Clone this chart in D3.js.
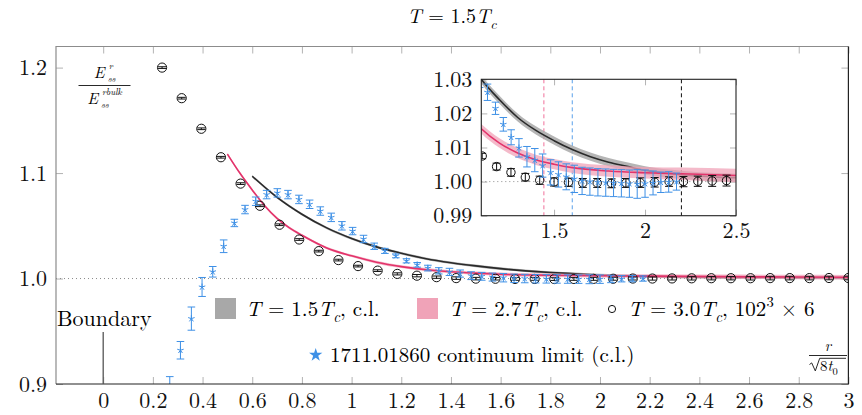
<!DOCTYPE html>
<html>
<head>
<meta charset="utf-8">
<script src="https://cdn.jsdelivr.net/npm/d3@7"></script>
<style>
  body { margin: 0; background: #fff; }
  svg { display: block; font-family: "Latin Modern Roman", "CMU Serif", "Liberation Serif", serif; }
</style>
</head>
<body>
<svg id="chart" width="862" height="415"></svg>
<script>
// ---- data ----
// T = 3.0 Tc, 102^3 x 6 lattice (open circles)
const circleX = [0.237, 0.316, 0.395, 0.474, 0.553, 0.631, 0.710, 0.789, 0.868, 0.947, 1.026, 1.105,
  1.184, 1.263, 1.342, 1.421, 1.500, 1.579, 1.658, 1.737, 1.816, 1.895, 1.974, 2.053, 2.132, 2.211,
  2.290, 2.369, 2.448, 2.527, 2.606, 2.685, 2.764, 2.843, 2.922, 3.000];
const circleY = [1.200, 1.171, 1.142, 1.115, 1.090, 1.069, 1.051, 1.037, 1.026, 1.0175, 1.0118, 1.0075,
  1.0044, 1.0027, 1.0013, 1.0004, 0.9999, 0.9998, 0.9996, 0.9996, 0.9995, 0.9996, 0.9997, 0.9998, 1.0000, 1.0000,
  1.0001, 1.0002, 1.0003, 1.0003, 1.0003, 1.0004, 1.0004, 1.0004, 1.0005, 1.0005];
const circleErr = [0.0008, 0.0008, 0.0008, 0.0008, 0.0008, 0.0008, 0.0008, 0.0008, 0.0008, 0.0008, 0.0008, 0.0008,
  0.0010, 0.0011, 0.0011, 0.0012, 0.0012, 0.0012, 0.0013, 0.0013, 0.0013, 0.0013, 0.0014, 0.0014, 0.0014, 0.0015,
  0.0015, 0.0016, 0.0016, 0.0016, 0.0017, 0.0017, 0.0017, 0.0017, 0.0017, 0.0017];

// 1711.01860 continuum limit (stars)
const starX = [0.268, 0.311, 0.355, 0.398, 0.441, 0.485, 0.528, 0.571, 0.614, 0.658, 0.701, 0.744, 0.788,
  0.831, 0.874, 0.918, 0.961, 1.004, 1.048, 1.091, 1.134, 1.178, 1.221, 1.264, 1.307, 1.351, 1.394, 1.437,
  1.481, 1.524, 1.567, 1.611, 1.654, 1.697, 1.741, 1.784, 1.827, 1.870, 1.914, 1.957, 2.000, 2.044, 2.087,
  2.130, 2.173];
const starY = [0.893, 0.932, 0.962, 0.992, 1.0064, 1.0306, 1.0527, 1.0654, 1.0733, 1.0796, 1.0812, 1.0796, 1.0750,
  1.0704, 1.0640, 1.0580, 1.0500, 1.0450, 1.0375, 1.0306, 1.0262, 1.0215, 1.0168, 1.0130, 1.0099, 1.0073, 1.0063, 1.0047,
  1.0027, 1.0021, 1.0014, 1.0008, 1.0002, 1.0000, 0.9998, 0.9997, 0.9996, 0.9995, 0.9994, 0.9993, 0.9994, 0.9996, 0.9998,
  0.9999, 1.0000];
const starErr = [0.014, 0.0083, 0.011, 0.009, 0.005, 0.006, 0.0035, 0.004, 0.004, 0.004, 0.004, 0.004, 0.004,
  0.004, 0.004, 0.004, 0.004, 0.0035, 0.0035, 0.003, 0.0024, 0.0018, 0.002, 0.0022, 0.0027, 0.003, 0.0034, 0.0034,
  0.0037, 0.0037, 0.0038, 0.004, 0.004, 0.004, 0.004, 0.004, 0.004, 0.004, 0.004, 0.0042, 0.004, 0.0035, 0.003,
  0.003, 0.0025];

// T = 1.5 Tc continuum limit (black line + gray band)
const blackX = [0.60, 0.70, 0.80, 0.90, 1.00, 1.10, 1.20, 1.30, 1.40, 1.50, 1.60, 1.70, 1.80, 1.90, 2.00,
  2.20, 2.40, 2.60, 2.80, 3.00];
const blackY = [1.097, 1.077, 1.061, 1.048, 1.038, 1.030, 1.024, 1.0188, 1.0150, 1.0120, 1.0094, 1.0073, 1.0057,
  1.0045, 1.0033, 1.0020, 1.0013, 1.0010, 1.0007, 1.0005];
const blackErr = [0.0012, 0.0012, 0.0012, 0.0012, 0.0012, 0.0012, 0.0012, 0.0012, 0.0012, 0.0012, 0.0012, 0.0012,
  0.0012, 0.0012, 0.0012, 0.0012, 0.0012, 0.0012, 0.0012, 0.0012];

// T = 2.7 Tc continuum limit (pink line + pink band)
const pinkX = [0.50, 0.55, 0.60, 0.65, 0.70, 0.75, 0.80, 0.90, 1.00, 1.10, 1.20, 1.30, 1.40, 1.50, 1.60,
  1.80, 2.00, 2.20, 2.50, 2.80, 3.00];
const pinkY = [1.118, 1.100, 1.084, 1.069, 1.057, 1.048, 1.041, 1.029, 1.0215, 1.0155, 1.0113, 1.0084, 1.0064,
  1.0051, 1.0041, 1.0031, 1.0026, 1.0023, 1.0018, 1.0014, 1.0012];
const pinkErr = [0.0012, 0.0012, 0.0012, 0.0012, 0.0012, 0.0012, 0.0012, 0.0012, 0.0012, 0.0014, 0.0014, 0.0015,
  0.0015, 0.0015, 0.0016, 0.0017, 0.0017, 0.0018, 0.0020, 0.0021, 0.0022];

// axes ticks
const xTicks = [0, 0.2, 0.4, 0.6, 0.8, 1, 1.2, 1.4, 1.6, 1.8, 2, 2.2, 2.4, 2.6, 2.8, 3];
const yTicks = [0.9, 1.0, 1.1, 1.2];
const insetXTicks = [1.5, 2, 2.5];
const insetYTicks = [0.99, 1.00, 1.01, 1.02, 1.03];
const insetMarkers = [1.444, 1.6, 2.2];   // dashed vertical lines in the inset
const boundaryX = 0;

const COL_BLUE = "#3e90e6", COL_PINK = "#e3336b", COL_PINKBAND = "#f0a3b8",
      COL_BLACK = "#2a2a2a", COL_GRAYBAND = "#a8a8a8";
const FONT = 22;

const svg = d3.select("#chart");

// ---- helpers ----
function rich(textSel, parts, size) {
  let off = 0;
  parts.forEach(p => {
    const ts = textSel.append("tspan").text(p.t);
    let target = 0;
    if (p.sub) target = size * 0.28;
    if (p.sup) target = -size * 0.42;
    if (target !== off) ts.attr("dy", target - off);
    off = target;
    if (p.i) ts.style("font-style", "italic");
    if (p.sub || p.sup) ts.style("font-size", (size * 0.7) + "px");
  });
  return textSel;
}

function starPath(r) {
  let d = "";
  for (let k = 0; k < 5; k++) {
    const a = -Math.PI / 2 + k * 2 * Math.PI / 5;
    d += "M0,0L" + (r * Math.cos(a)).toFixed(2) + "," + (r * Math.sin(a)).toFixed(2);
  }
  return d;
}

function drawPlot(g, x, y, opt) {
  const area = d => d3.area().curve(d3.curveMonotoneX)
    .x(i => x(d.xs[i])).y0(i => y(d.ys[i] - d.es[i])).y1(i => y(d.ys[i] + d.es[i]));
  const line = d => d3.line().curve(d3.curveMonotoneX).x(i => x(d.xs[i])).y(i => y(d.ys[i]));
  const black = { xs: blackX, ys: blackY, es: blackErr };
  const pink = { xs: pinkX, ys: pinkY, es: pinkErr };
  const idxB = d3.range(blackX.length), idxP = d3.range(pinkX.length);

  const clip = g.append("g").attr("clip-path", "url(#" + opt.clip + ")");
  clip.append("path").attr("d", area(black)(idxB)).attr("fill", COL_GRAYBAND).attr("opacity", 0.85);
  clip.append("path").attr("d", line(black)(idxB)).attr("fill", "none").attr("stroke", COL_BLACK).attr("stroke-width", 1.6);
  clip.append("path").attr("d", area(pink)(idxP)).attr("fill", COL_PINKBAND).attr("opacity", 0.75);
  clip.append("path").attr("d", line(pink)(idxP)).attr("fill", "none").attr("stroke", COL_PINK).attr("stroke-width", 1.6);

  // circles with error bars
  const cg = clip.append("g").attr("stroke", "#111").attr("fill", "none").attr("stroke-width", 1);
  d3.range(circleX.length).forEach(i => {
    const cx = x(circleX[i]);
    const t = y(circleY[i] + circleErr[i]), b = y(circleY[i] - circleErr[i]);
    cg.append("path").attr("d", `M${cx},${t}V${b}M${cx - 4},${t}H${cx + 4}M${cx - 4},${b}H${cx + 4}`);
    cg.append("circle").attr("cx", cx).attr("cy", y(circleY[i])).attr("r", opt.r);
  });

  // stars with error bars
  const sg = clip.append("g").attr("stroke", COL_BLUE).attr("fill", "none").attr("stroke-width", 1);
  d3.range(starX.length).forEach(i => {
    const sx = x(starX[i]);
    const t = y(starY[i] + starErr[i]), b = y(starY[i] - starErr[i]);
    sg.append("path").attr("d", `M${sx},${t}V${b}M${sx - 3.8},${t}H${sx + 3.8}M${sx - 3.8},${b}H${sx + 3.8}`);
    sg.append("path").attr("transform", `translate(${sx},${y(starY[i])})`).attr("d", starPath(3.4));
  });
}

function styleAxis(g) {
  g.attr("font-family", null).attr("font-size", FONT);
  g.select(".domain").remove();
  g.selectAll(".tick line").attr("stroke", "#b3b3b3");
  g.selectAll(".tick text").attr("fill", "#111");
}

// ---- main axes ----
const M = { left: 56, right: 848.4, top: 46.5, bottom: 384 };
const x = d3.scaleLinear().domain([-0.19, 3]).range([M.left, M.right]);
const y = d3.scaleLinear().domain([0.9, 1.22]).range([M.bottom, M.top]);

const defs = svg.append("defs");
defs.append("clipPath").attr("id", "clipMain").append("rect")
  .attr("x", M.left).attr("y", M.top).attr("width", M.right - M.left).attr("height", M.bottom - M.top);

// title
rich(svg.append("text").attr("x", 452).attr("y", 23).attr("text-anchor", "middle").attr("font-size", 20),
  [{ t: "T", i: true }, { t: " = 1.5" }, { t: "T", i: true }, { t: "c", i: true, sub: true }], 20);

// ticks
svg.append("g").attr("transform", `translate(0,${M.bottom})`)
  .call(d3.axisBottom(x).tickValues(xTicks).tickFormat(d => String(+d.toFixed(1))).tickSize(-7).tickPadding(8))
  .call(styleAxis);
svg.append("g").attr("transform", `translate(0,${M.top})`)
  .call(d3.axisTop(x).tickValues(xTicks).tickFormat("").tickSize(-7)).call(styleAxis);
svg.append("g").attr("transform", `translate(${M.left},0)`)
  .call(d3.axisLeft(y).tickValues(yTicks).tickFormat(d3.format(".1f")).tickSize(-7).tickPadding(9))
  .call(styleAxis);
svg.append("g").attr("transform", `translate(${M.right},0)`)
  .call(d3.axisRight(y).tickValues(yTicks).tickFormat("").tickSize(-7)).call(styleAxis);

// reference line at 1
svg.append("line").attr("x1", M.left).attr("x2", M.right).attr("y1", y(1)).attr("y2", y(1))
  .attr("stroke", "#8a8a8a").attr("stroke-width", 1).attr("stroke-dasharray", "1,3");

drawPlot(svg.append("g"), x, y, { clip: "clipMain", r: 4.6 });

// frame
svg.append("path").attr("d", `M${M.left},${M.bottom}V${M.top}H${M.right}`)
  .attr("fill", "none").attr("stroke", "#8c8c8c").attr("stroke-width", 1.2);
svg.append("path").attr("d", `M${M.left},${M.bottom}H${M.right}V${M.top}`)
  .attr("fill", "none").attr("stroke", "#222").attr("stroke-width", 1.2);

// boundary marker
svg.append("line").attr("x1", x(boundaryX)).attr("x2", x(boundaryX)).attr("y1", 332).attr("y2", M.bottom)
  .attr("stroke", "#555").attr("stroke-width", 1.3);
svg.append("text").attr("x", 57).attr("y", 326).attr("font-size", FONT).text("Boundary");

// y label (fraction): E, then superscript and subscript placed as separate small texts
function stackedE(cx, base, sup, size) {
  const s = 9.3, gap = 3;
  const e = svg.append("text").attr("y", base).attr("font-size", size).style("font-style", "italic").text("E");
  const s1 = svg.append("text").attr("y", base - 8.4).attr("font-size", s).style("font-style", "italic").text(sup);
  const s2 = svg.append("text").attr("y", base + 4.6).attr("font-size", s).style("font-style", "italic").text("ss");
  const we = e.node().getComputedTextLength();
  const w1 = s1.node().getComputedTextLength(), w2 = s2.node().getComputedTextLength();
  const x0 = cx - (we + gap + Math.max(w1 + 1, w2)) / 2;
  e.attr("x", x0); s1.attr("x", x0 + we + gap + 1); s2.attr("x", x0 + we + gap);
}
stackedE(104.5, 77.5, "r", 16);
svg.append("line").attr("x1", 78.5).attr("x2", 130.5).attr("y1", 85.5).attr("y2", 85.5).attr("stroke", "#111").attr("stroke-width", 0.9);
stackedE(104.5, 103.5, "rbulk", 16);

// x label r / sqrt(8 t0)
svg.append("text").attr("x", 828).attr("y", 351).attr("text-anchor", "middle").attr("font-size", 15)
  .style("font-style", "italic").text("r");
svg.append("line").attr("x1", 809).attr("x2", 847).attr("y1", 355.5).attr("y2", 355.5).attr("stroke", "#111").attr("stroke-width", 0.9);
svg.append("path").attr("d", "M809.5,364.5l2.2,-1.6l3.6,8l4.4,-12.6H846").attr("fill", "none").attr("stroke", "#111").attr("stroke-width", 0.9);
rich(svg.append("text").attr("x", 820).attr("y", 371).attr("font-size", 15),
  [{ t: "8" }, { t: "t", i: true }, { t: "0", sub: true }], 15);

// ---- legend ----
const legend = svg.append("g").attr("font-size", 21);
legend.append("rect").attr("x", 215).attr("y", 298).attr("width", 21).attr("height", 21).attr("fill", COL_GRAYBAND);
rich(legend.append("text").attr("x", 246).attr("y", 316),
  [{ t: "T", i: true }, { t: " = 1.5" }, { t: "T", i: true }, { t: "c", i: true, sub: true }, { t: ", c.l." }], 21);
legend.append("rect").attr("x", 417).attr("y", 298).attr("width", 21).attr("height", 21).attr("fill", COL_PINKBAND);
rich(legend.append("text").attr("x", 449).attr("y", 316),
  [{ t: "T", i: true }, { t: " = 2.7" }, { t: "T", i: true }, { t: "c", i: true, sub: true }, { t: ", c.l." }], 21);
legend.append("circle").attr("cx", 612).attr("cy", 309).attr("r", 3.6).attr("fill", "none").attr("stroke", "#111");
rich(legend.append("text").attr("x", 628).attr("y", 316),
  [{ t: "T", i: true }, { t: " = 3.0" }, { t: "T", i: true }, { t: "c", i: true, sub: true }, { t: ", 102" },
   { t: "3", sup: true }, { t: " × 6" }], 21);
legend.append("path").attr("transform", "translate(315.7,355)")
  .attr("d", d3.symbol(d3.symbolStar, 55)()).attr("fill", COL_BLUE);
legend.append("text").attr("x", 330).attr("y", 362).text("1711.01860 continuum limit (c.l.)");

// ---- inset ----
const I = { left: 481.3, right: 736, top: 79.3, bottom: 215.7 };
const xi = d3.scaleLinear().domain([1.1, 2.5]).range([I.left, I.right]);
const yi = d3.scaleLinear().domain([0.99, 1.03]).range([I.bottom, I.top]);
defs.append("clipPath").attr("id", "clipInset").append("rect")
  .attr("x", I.left).attr("y", I.top).attr("width", I.right - I.left).attr("height", I.bottom - I.top);

const ins = svg.append("g");
ins.append("rect").attr("x", I.left).attr("y", I.top).attr("width", I.right - I.left).attr("height", I.bottom - I.top).attr("fill", "#fff");
ins.append("g").attr("transform", `translate(0,${I.bottom})`)
  .call(d3.axisBottom(xi).tickValues(insetXTicks).tickFormat(d3.format("~g")).tickSize(-6).tickPadding(7)).call(styleAxis);
ins.append("g").attr("transform", `translate(0,${I.top})`)
  .call(d3.axisTop(xi).tickValues(insetXTicks).tickFormat("").tickSize(-6)).call(styleAxis);
ins.append("g").attr("transform", `translate(${I.left},0)`)
  .call(d3.axisLeft(yi).tickValues(insetYTicks).tickFormat(d3.format(".2f")).tickSize(-6).tickPadding(9)).call(styleAxis);
ins.append("g").attr("transform", `translate(${I.right},0)`)
  .call(d3.axisRight(yi).tickValues(insetYTicks).tickFormat("").tickSize(-6)).call(styleAxis);

ins.append("line").attr("x1", I.left).attr("x2", I.right).attr("y1", yi(1)).attr("y2", yi(1))
  .attr("stroke", "#8a8a8a").attr("stroke-dasharray", "1,3");
const dashCols = ["#f0709a", "#5aa0ea", "#111"];
insetMarkers.forEach((v, i) => {
  ins.append("line").attr("x1", xi(v)).attr("x2", xi(v)).attr("y1", I.top).attr("y2", I.bottom)
    .attr("stroke", dashCols[i]).attr("stroke-width", 1).attr("stroke-dasharray", "4,3");
});
drawPlot(ins.append("g"), xi, yi, { clip: "clipInset", r: 4.2 });
ins.append("rect").attr("x", I.left).attr("y", I.top).attr("width", I.right - I.left).attr("height", I.bottom - I.top)
  .attr("fill", "none").attr("stroke", "#222").attr("stroke-width", 1.1);
</script>
</body>
</html>
